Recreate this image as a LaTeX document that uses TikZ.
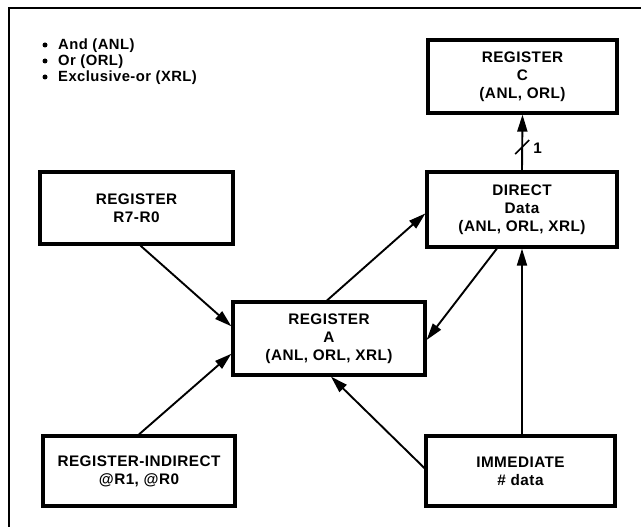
\documentclass[tikz,border=0pt]{standalone}
\usepackage{fontspec}
\setmainfont{Liberation Sans}[LetterSpace=3]
\usetikzlibrary{arrows.meta,calc}
\tikzset{
  box/.style={draw, line width=3.2pt, inner sep=0pt, align=center,
    font=\fontsize{15.3}{18}\selectfont\bfseries},
  conn/.style={line width=1.9pt, -{Triangle[length=17pt,width=10pt]}},
  frameline/.style={line width=2.8pt},
  listitem/.style={anchor=base west, inner sep=0pt, font=\fontsize{14.8}{16}\selectfont\bfseries},
  bulletdot/.style={fill=black},
}
\begin{document}
\begin{tikzpicture}[x=1pt,y=-1pt]
\useasboundingbox (0,0) rectangle (641,527);
\fill[white] (0,0) rectangle (641,527);
% frame (top and left edges)
\coordinate (f1) at (641,8);
\coordinate (f2) at (9,8);
\coordinate (f3) at (9,527);
\draw[frameline] (f1) -- (f2) -- (f3);

% list
\node[listitem] (b1) at (58,50) {And (ANL)};
\node[listitem] (b2) at (58,66) {Or (ORL)};
\node[listitem] (b3) at (58,82) {Exclusive-or (XRL)};
\fill[bulletdot] (45,45) circle (2.5pt);
\fill[bulletdot] (45,61) circle (2.5pt);
\fill[bulletdot] (45,77) circle (2.5pt);

% boxes
\node[box, minimum width=189pt, minimum height=73pt] (C) at (522.5,76.5) {REGISTER\\C\\(ANL, ORL)};
\node[box, minimum width=190pt, minimum height=75pt] (D) at (522,209.5) {DIRECT\\Data\\(ANL, ORL, XRL)};
\node[box, minimum width=193pt, minimum height=72pt] (R7) at (136.5,208) {REGISTER\\R7-R0};
\node[box, minimum width=192pt, minimum height=73pt] (A) at (329,338.5) {REGISTER\\A\\(ANL, ORL, XRL)};
\node[box, minimum width=192pt, minimum height=70pt] (IND) at (139,471) {REGISTER-INDIRECT\\@R1, @R0};
\node[box, minimum width=189pt, minimum height=70pt] (IMM) at (520.5,471) {IMMEDIATE\\\# data};

% connectors
\draw[conn] ($(R7.south west)!0.52!(R7.south east)$) -- ($(A.north west)!0.34!(A.south west)$);
\draw[conn] ($(IND.north west)!0.5!(IND.north east)$) -- ($(A.north west)!0.70!(A.south west)$);
\draw[conn] ($(A.north west)!0.49!(A.north east)$) -- ($(D.north west)!0.55!(D.south west)$);
\draw[conn] ($(D.south west)!0.37!(D.south east)$) -- ($(A.north east)!0.52!(A.south east)$);
\draw[conn] ($(IMM.north west)!0.46!(IMM.south west)$) -- ($(A.south west)!0.51!(A.south east)$);
\draw[conn] (D.south |- IMM.north) -- (D.south);
\draw[conn] (D.north) -- (C.south);

% bus width mark
\coordinate (m) at ($(D.north)!0.42!(C.south)$);
\draw[line width=1.6pt] ($(m)+(-7,7)$) -- ($(m)+(7,-7)$);
\node[anchor=west, inner sep=0pt, font=\fontsize{15.3}{18}\selectfont\bfseries] (one) at ($(m)+(11,1)$) {1};
\end{tikzpicture}
\end{document}
